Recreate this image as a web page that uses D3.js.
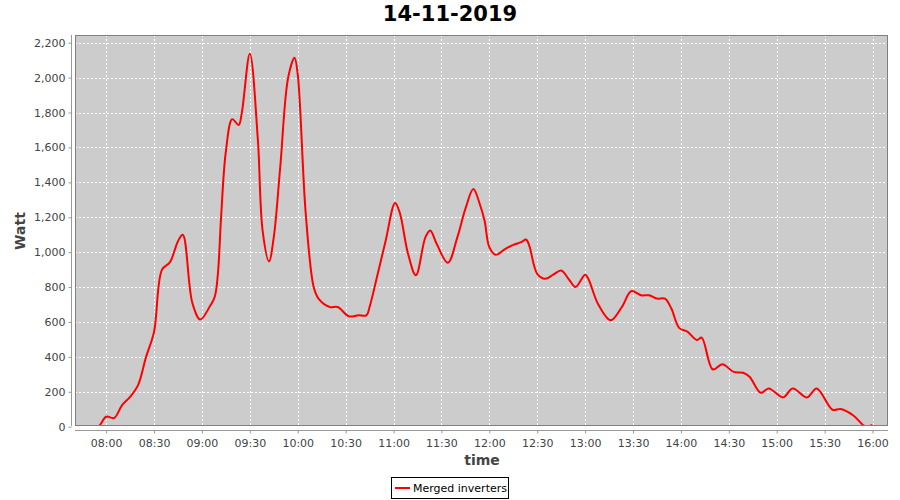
<!DOCTYPE html>
<html>
<head>
<meta charset="utf-8">
<script src="https://cdn.jsdelivr.net/npm/d3@7"></script>
<style>
  html, body { margin: 0; padding: 0; background: #ffffff; }
  svg { display: block; font-family: "DejaVu Sans", sans-serif; }
</style>
</head>
<body>
<svg id="chart" width="900" height="500"></svg>
<script>
// ---- data ----
const title = "14-11-2019";
const seriesName = "Merged inverters";
const times = ["07:50","07:55","08:00","08:05","08:10","08:15","08:20","08:25","08:30","08:35","08:40","08:45","08:48","08:54","08:59","09:05","09:08","09:10","09:12","09:15","09:19","09:23","09:25","09:30","09:35","09:38","09:42","09:45","09:49","09:54","09:58","10:00","10:05","10:10","10:13","10:20","10:25","10:32","10:38","10:43","10:45","10:50","10:55","11:01","11:04","11:09","11:14","11:20","11:23","11:27","11:34","11:40","11:45","11:50","11:54","11:57","12:00","12:04","12:10","12:15","12:20","12:23","12:25","12:30","12:35","12:40","12:45","12:50","12:54","13:00","13:02","13:08","13:16","13:23","13:29","13:35","13:40","13:45","13:50","13:54","13:59","14:04","14:10","14:13","14:20","14:26","14:33","14:39","14:43","14:50","14:55","15:04","15:10","15:19","15:25","15:35","15:40","15:48","15:54","15:56","16:00"];
const watts = [5,0,57,50,124,171,238,400,543,900,943,1063,1100,709,614,690,743,876,1200,1577,1762,1728,1800,2137,1648,1124,947,1086,1482,2000,2114,2019,1223,800,734,686,686,633,638,638,686,872,1063,1282,1223,994,867,1086,1124,1048,939,1086,1248,1362,1276,1181,1029,985,1019,1042,1057,1072,1038,876,848,871,895,842,800,871,848,705,610,686,777,753,753,734,734,677,565,545,497,510,328,358,314,309,286,194,219,168,219,168,219,97,101,64,10,0,10];
const xTickLabels = ["08:00","08:30","09:00","09:30","10:00","10:30","11:00","11:30","12:00","12:30","13:00","13:30","14:00","14:30","15:00","15:30","16:00"];
const yTickValues = [0,200,400,600,800,1000,1200,1400,1600,1800,2000,2200];
const xDomain = ["07:40.5","16:09.7"];
const yDomain = [0, 2223];

// ---- helpers ----
function toMin(s) {
  const [h, m] = s.split(":");
  return (+h) * 60 + parseFloat(m);
}

const data = times.map((t, i) => ({ t: toMin(t), v: watts[i] }));

const svg = d3.select("#chart");
const plot = { left: 75, right: 888, top: 35, bottom: 426 };

const x = d3.scaleLinear().domain(xDomain.map(toMin)).range([plot.left, plot.right]);
const y = d3.scaleLinear().domain(yDomain).range([plot.bottom + 0.7, plot.bottom + 0.7 - 2223 * 0.17455]);

// plot background
svg.append("rect")
  .attr("x", plot.left).attr("y", plot.top)
  .attr("width", plot.right - plot.left).attr("height", plot.bottom - plot.top)
  .attr("fill", "#cccccc");

// gridlines
const grid = svg.append("g");
xTickLabels.forEach(l => {
  const xx = Math.round(x(toMin(l))) + 0.5;
  grid.append("line").attr("x1", xx).attr("x2", xx).attr("y1", plot.top).attr("y2", plot.bottom)
    .attr("stroke", "#ffffff").attr("stroke-width", 1).attr("stroke-dasharray", "2,2");
});
yTickValues.forEach(v => {
  const yy = Math.round(y(v)) + 0.5;
  grid.append("line").attr("x1", plot.left).attr("x2", plot.right).attr("y1", yy).attr("y2", yy)
    .attr("stroke", "#ffffff").attr("stroke-width", 1).attr("stroke-dasharray", "2,2");
});

// clip
svg.append("clipPath").attr("id", "clip").append("rect")
  .attr("x", plot.left).attr("y", plot.top)
  .attr("width", plot.right - plot.left).attr("height", plot.bottom - plot.top);

// line
const line = d3.line().x(d => x(d.t)).y(d => y(d.v)).curve(d3.curveCatmullRom.alpha(0.5));
svg.append("path")
  .datum(data)
  .attr("clip-path", "url(#clip)")
  .attr("d", line)
  .attr("fill", "none")
  .attr("stroke", "#ff0000")
  .attr("stroke-width", 2)
  .attr("stroke-linejoin", "round");

// outline
svg.append("rect")
  .attr("x", plot.left + 0.5).attr("y", plot.top + 0.5)
  .attr("width", plot.right - plot.left - 1).attr("height", plot.bottom - plot.top - 1)
  .attr("fill", "none").attr("stroke", "#808080").attr("stroke-width", 1);

// y axis
const yAxis = d3.axisLeft(y).tickValues(yTickValues).tickSize(3).tickPadding(3).tickFormat(d3.format(","));
const gy = svg.append("g").attr("transform", "translate(71.5,0)").call(yAxis);
gy.select(".domain").attr("stroke", "#999999").attr("d", `M0,${plot.top}V${plot.bottom}`);
gy.selectAll(".tick line").attr("stroke", "#999999");
gy.selectAll(".tick text").attr("fill", "#444444").style("font-size", "11px").style("font-family", "DejaVu Sans, sans-serif");

// x axis
const xAxis = d3.axisBottom(x).tickValues(xTickLabels.map(toMin)).tickSize(3).tickPadding(6)
  .tickFormat((d, i) => xTickLabels[i]);
const gx = svg.append("g").attr("transform", "translate(0,430.5)").call(xAxis);
gx.select(".domain").attr("stroke", "#999999").attr("d", `M${plot.left},0H${plot.right}`);
gx.selectAll(".tick line").attr("stroke", "#999999");
gx.selectAll(".tick text").attr("fill", "#444444").style("font-size", "11px").style("font-family", "DejaVu Sans, sans-serif");

// title
svg.append("text").attr("x", 450).attr("y", 21).attr("text-anchor", "middle")
  .style("font-size", "21px").style("font-weight", "bold").attr("fill", "#000000").text(title);

// axis labels
svg.append("text").attr("x", 482).attr("y", 465).attr("text-anchor", "middle")
  .style("font-size", "14px").style("font-weight", "bold").attr("fill", "#444444").text("time");
svg.append("text").attr("transform", "translate(25,231) rotate(-90)").attr("text-anchor", "middle")
  .style("font-size", "14px").style("font-weight", "bold").attr("fill", "#444444").text("Watt");

// legend
const lg = svg.append("g");
lg.append("rect").attr("x", 391.5).attr("y", 477.5).attr("width", 117).attr("height", 21)
  .attr("fill", "#ffffff").attr("stroke", "#000000").attr("stroke-width", 1);
lg.append("line").attr("x1", 395).attr("x2", 410).attr("y1", 488).attr("y2", 488)
  .attr("stroke", "#ff0000").attr("stroke-width", 2);
lg.append("text").attr("x", 413).attr("y", 492).style("font-size", "11px").attr("fill", "#000000").text(seriesName);
</script>
</body>
</html>
